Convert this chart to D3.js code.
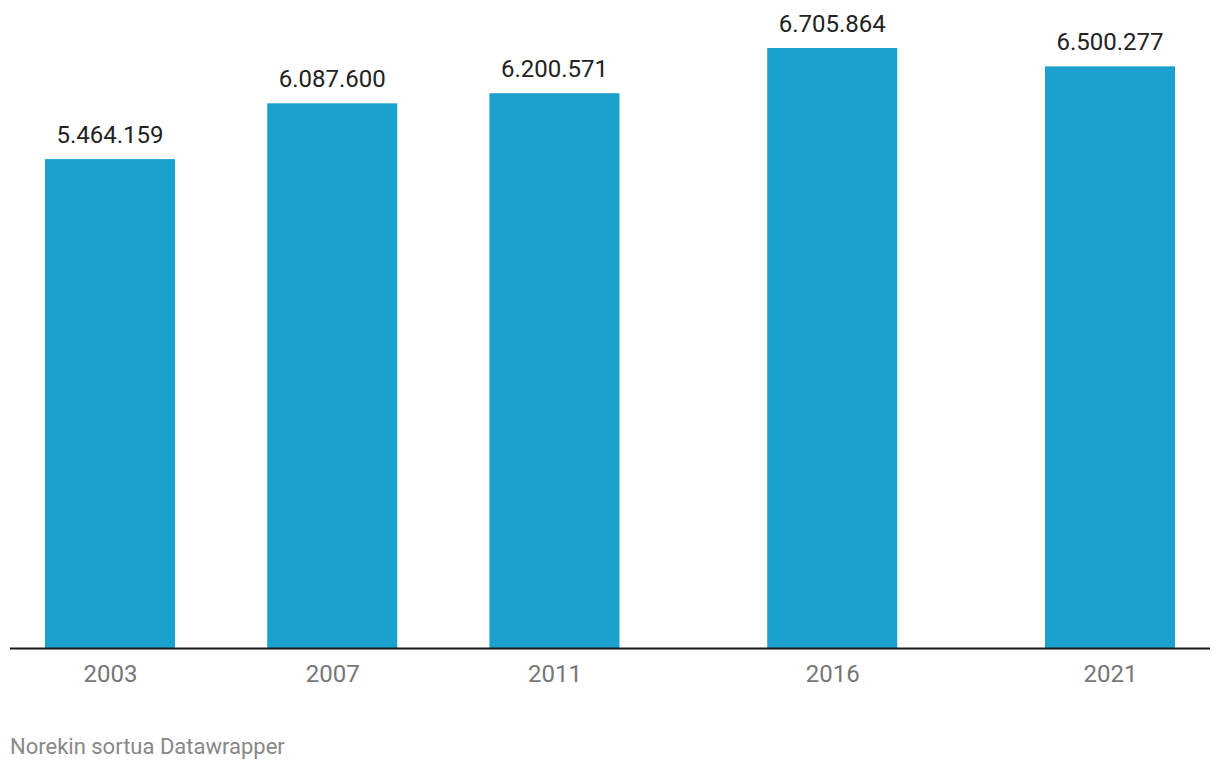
<!DOCTYPE html>
<html>
<head>
<meta charset="utf-8">
<script src="https://cdn.jsdelivr.net/npm/d3@7"></script>
<style>
  html, body { margin: 0; padding: 0; background: #fff; }
  svg { display: block; font-family: Roboto, "Noto Sans", sans-serif; }
</style>
</head>
<body>
<svg id="chart" width="1220" height="770"></svg>
<script>
const years = [2003, 2007, 2011, 2016, 2021];
const values = [5464159, 6087600, 6200571, 6705864, 6500277];
const valueLabels = ["5.464.159", "6.087.600", "6.200.571", "6.705.864", "6.500.277"];
const tickLabels = ["2003", "2007", "2011", "2016", "2021"];
const footer = "Norekin sortua Datawrapper";

const svg = d3.select("#chart");
const baseline = 648;
const x = d3.scaleLinear().domain([2003, 2021]).range([110, 1110]);
const y = d3.scaleLinear().domain([0, d3.max(values)]).range([baseline, 48]);
const barW = 130;

const data = years.map((yr, i) => ({ yr, v: values[i], label: valueLabels[i], tick: tickLabels[i] }));

svg.append("g").selectAll("rect").data(data).join("rect")
  .attr("x", d => x(d.yr) - barW / 2)
  .attr("y", d => y(d.v))
  .attr("width", barW)
  .attr("height", d => baseline - y(d.v))
  .attr("fill", "#1aa1cd");

svg.append("g").selectAll("text").data(data).join("text")
  .attr("x", d => x(d.yr))
  .attr("y", d => y(d.v) - 16)
  .attr("text-anchor", "middle")
  .attr("font-size", 24)
  .attr("fill", "#222")
  .text(d => d.label);

const axis = d3.axisBottom(x).tickValues(years).tickFormat((d, i) => tickLabels[i]).tickSize(0).tickPadding(0);
const gAxis = svg.append("g").attr("transform", `translate(0,${baseline})`).call(axis);
gAxis.select(".domain").remove();
gAxis.selectAll("text")
  .attr("dy", null)
  .attr("y", 34)
  .attr("font-size", 24)
  .attr("font-family", "Roboto, sans-serif")
  .attr("fill", "#777");

svg.append("line")
  .attr("x1", 10).attr("x2", 1210)
  .attr("y1", baseline + 0.5).attr("y2", baseline + 0.5)
  .attr("stroke", "#1a1a1a").attr("stroke-width", 2);

svg.append("text")
  .attr("x", 10).attr("y", 754)
  .attr("font-size", 22)
  .attr("fill", "#888")
  .text(footer);
</script>
</body>
</html>
